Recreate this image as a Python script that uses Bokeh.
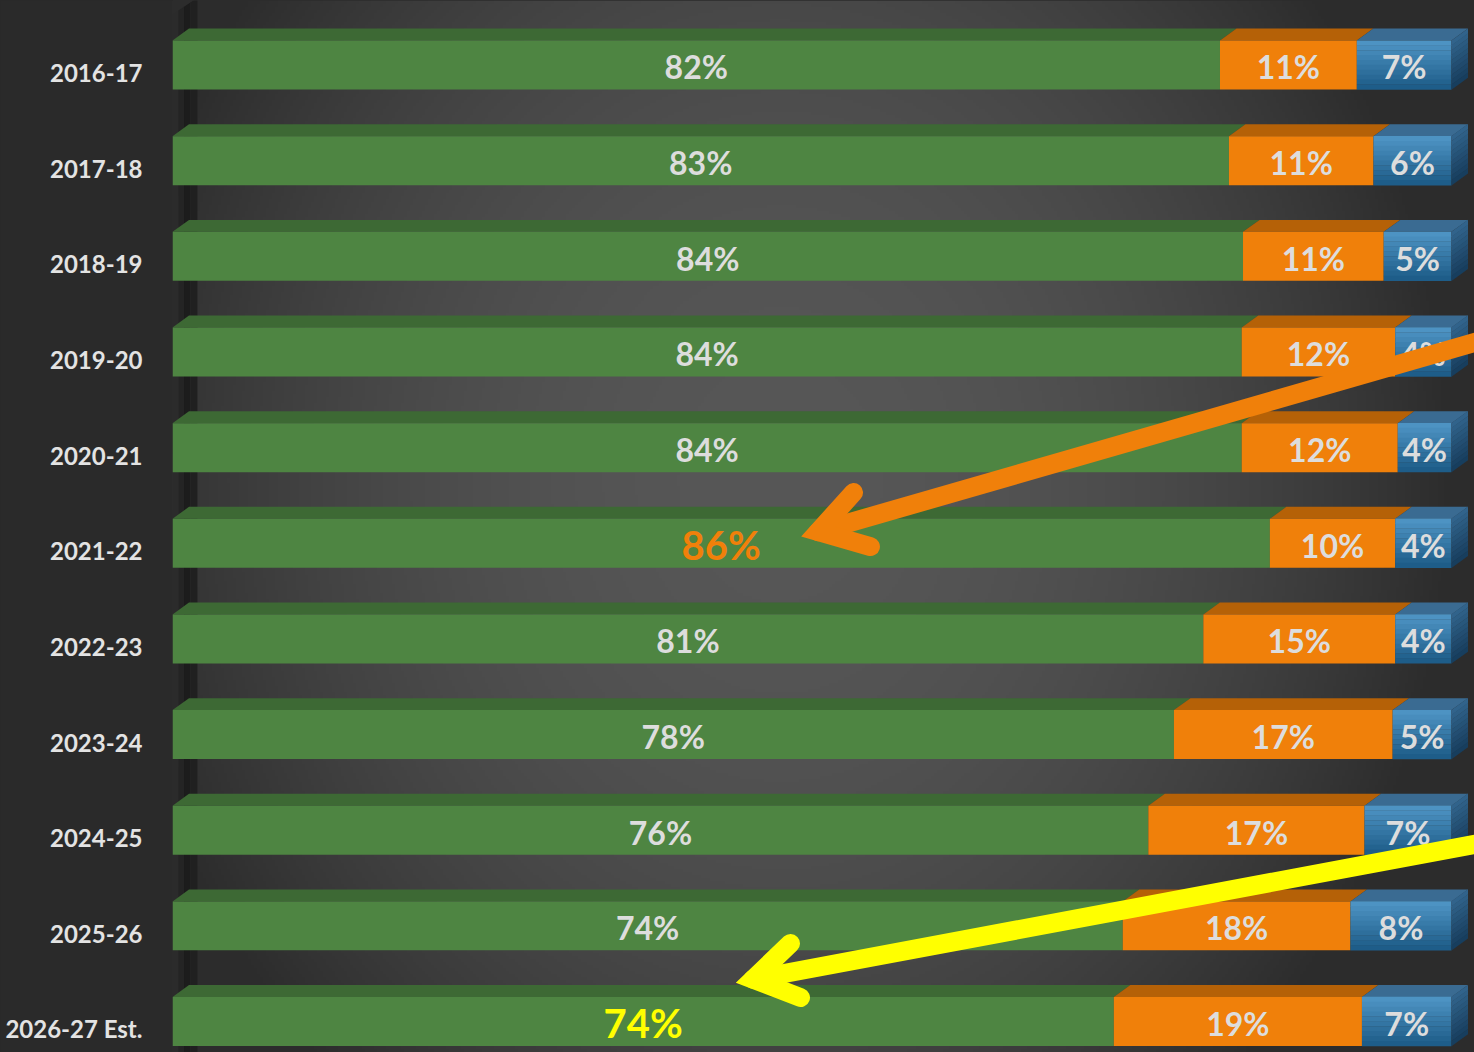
import numpy as np
from bokeh.plotting import figure
from bokeh.models import Range1d, FixedTicker, ColumnDataSource, GlobalInlineStyleSheet
from bokeh.core.properties import value
from bokeh.embed import file_html
from bokeh.resources import INLINE

# ---------------- data ----------------
years = ["2016-17", "2017-18", "2018-19", "2019-20", "2020-21", "2021-22",
         "2022-23", "2023-24", "2024-25", "2025-26", "2026-27 Est."]
share_green = [81.9, 82.6, 83.7, 83.6, 83.6, 85.8, 80.6, 78.3, 76.3, 74.3, 73.6]
share_orange = [10.7, 11.3, 11.0, 12.0, 12.2, 9.8, 15.0, 17.1, 16.9, 17.8, 19.4]
share_blue = [7.4, 6.1, 5.3, 4.4, 4.2, 4.4, 4.4, 4.6, 6.8, 7.9, 7.0]

# highlighted green labels (row -> colour)
highlight = {"2021-22": "#F0800A", "2026-27 Est.": "#FFFF00"}

# arrows (data coordinates: x in %, y = -row)
orange_arrow = dict(tail=(105.0, -2.70), tip=(50.5, -4.80), b1=(53.25, -4.391), b2=(54.57, -4.956))
yellow_arrow = dict(tail=(105.0, -7.99), tip=(45.4, -9.48), b1=(48.32, -9.106), b2=(49.1, -9.671))

# ---------------- geometry / style ----------------
W, H = 1474, 1052
X0, X1 = 0.0, 101.8
Y0, Y1 = -10.246, 0.753
H_FRONT = 0.512
DX, DY = 1.29, 0.125
Y_SHIFT = 0.078
FONT = "Lato"

n = len(years)
g = np.array(share_green)
o = np.array(share_orange)
b = np.array(share_blue)
yc = -np.arange(n) + Y_SHIFT
bot = yc - H_FRONT / 2
top = yc + H_FRONT / 2

p = figure(width=W, height=H, output_backend="svg", toolbar_location=None,
           x_range=Range1d(X0, X1), y_range=Range1d(Y0, Y1),
           x_axis_location=None, min_border_left=172, min_border_right=0,
           min_border_top=0, min_border_bottom=0)
p.stylesheets = [GlobalInlineStyleSheet(css="html, body {margin:0 !important; padding:0; background:#2a2a2a; overflow:hidden;}")]
p.grid.visible = False
p.outline_line_color = None
p.background_fill_color = "#2e2e2e"
p.border_fill_color = "#2a2a2a"

ax = p.yaxis[0]
ax.ticker = FixedTicker(ticks=[-i for i in range(n)])
ax.major_label_overrides = {-i: years[i] for i in range(n)}
ax.axis_line_color = None
ax.major_tick_line_color = None
ax.minor_tick_line_color = None
ax.major_tick_out = 0
ax.major_tick_in = 0
ax.major_label_standoff = 30
ax.major_label_text_font = FONT
ax.major_label_text_font_size = "24px"
ax.major_label_text_font_style = "bold"
ax.major_label_text_color = "#E3E3E3"

# ---------------- background radial gradient ----------------
nx, ny = 434, 351
pxs = 172 + (np.arange(nx) + 0.5) * (W - 172) / nx
pys = (np.arange(ny) + 0.5) * H / ny
PX, PY = np.meshgrid(pxs, pys)
d2 = (PX - 780) ** 2 + ((PY - 480) / 1.2) ** 2
cval = np.clip(87 - 9.5e-5 * d2, 44, 87).astype(np.uint8)
img = np.empty((ny, nx), dtype=np.uint32)
view = img.view(dtype=np.uint8).reshape((ny, nx, 4))
view[..., 0] = cval
view[..., 1] = cval
view[..., 2] = cval
view[..., 3] = 255
img = np.flipud(img)
p.image_rgba(image=[img], x=X0, y=Y0, dw=X1 - X0, dh=Y1 - Y0)

# ---------------- left wall ----------------
wall_x = [0.0, 0.47, 0.9, 1.4, 1.95]
wall_c = ["#2b2b2b", "#242424", "#1c1c1c", "#202020"]
wt = lambda x: 0.606 + x * 0.09
p.patches(xs=[[wall_x[k], wall_x[k], wall_x[k + 1], wall_x[k + 1]] for k in range(4)],
          ys=[[Y0 - 1, wt(wall_x[k]), wt(wall_x[k + 1]), Y0 - 1] for k in range(4)],
          fill_color=wall_c, line_color=None)

# ---------------- bars ----------------
segs = [
    (np.zeros(n), g, "#4E8542", "#3D6934"),
    (g, g + o, "#F0800A", "#B56107"),
    (g + o, g + o + b, None, "#3A6B92"),
]
for left, right, front, topc in segs:
    p.patches(xs=[[l, l + DX, r + DX, r] for l, r in zip(left, right)],
              ys=[[t, t + DY, t + DY, t] for t in top],
              fill_color=topc, line_color=None)
    if front is not None:
        p.quad(left=left, right=right, bottom=bot, top=top, fill_color=front, line_color=None)

# blue front face: vertical gradient in slices
N = 10
c_top = np.array([0x50, 0x96, 0xC7])
c_bot = np.array([0x1C, 0x5A, 0x86])
s_top = np.array([0x33, 0x66, 0x8E])
s_bot = np.array([0x16, 0x3C, 0x5C])
left_b = g + o
right_b = g + o + b
for k in range(N):
    f = (k + 0.5) / N
    col = tuple(int(v) for v in (c_top * (1 - f) + c_bot * f))
    scol = tuple(int(v) for v in (s_top * (1 - f) + s_bot * f))
    ya = top - (k + 1) * H_FRONT / N
    yb = top - k * H_FRONT / N
    p.quad(left=left_b, right=right_b, bottom=ya - 0.002, top=yb + 0.002,
           fill_color="#%02x%02x%02x" % col, line_color=None)
    p.patches(xs=[[r, r, r + DX, r + DX] for r in right_b],
              ys=[[a_, b_ + 0.002, b_ + DY + 0.002, a_ + DY] for a_, b_ in zip(ya - 0.002, yb)],
              fill_color="#%02x%02x%02x" % scol, line_color=None)

# ---------------- value labels ----------------
lx, ly, lt, lc, ls = [], [], [], [], []
for i in range(n):
    for left, right, val, is_green in ((0, g[i], g[i], True), (g[i], g[i] + o[i], o[i], False),
                                      (g[i] + o[i], g[i] + o[i] + b[i], b[i], False)):
        lx.append((left + right) / 2)
        ly.append(yc[i] - 0.02)
        lt.append(f"{val:.0f}%")
        if is_green and years[i] in highlight:
            lc.append(highlight[years[i]])
            ls.append("40px")
        else:
            lc.append("#DDDDDD")
            ls.append("32px")
src = ColumnDataSource(dict(x=lx, y=ly, text=lt, color=lc, size=ls))
p.text(x="x", y="y", text="text", source=src, text_color="color", text_font_size="size",
       text_font=value(FONT), text_font_style="bold", text_align="center", text_baseline="middle")

# ---------------- arrows ----------------
for arr, colr in ((orange_arrow, "#F0800A"), (yellow_arrow, "#FFFF00")):
    p.line(x=[arr["tail"][0], arr["tip"][0]], y=[arr["tail"][1], arr["tip"][1]],
           line_color=colr, line_width=19, line_cap="round")
    p.line(x=[arr["b1"][0], arr["tip"][0], arr["b2"][0]],
           y=[arr["b1"][1], arr["tip"][1], arr["b2"][1]],
           line_color=colr, line_width=19, line_cap="round", line_join="miter")

open("out.html", "w").write(file_html(p, INLINE))
